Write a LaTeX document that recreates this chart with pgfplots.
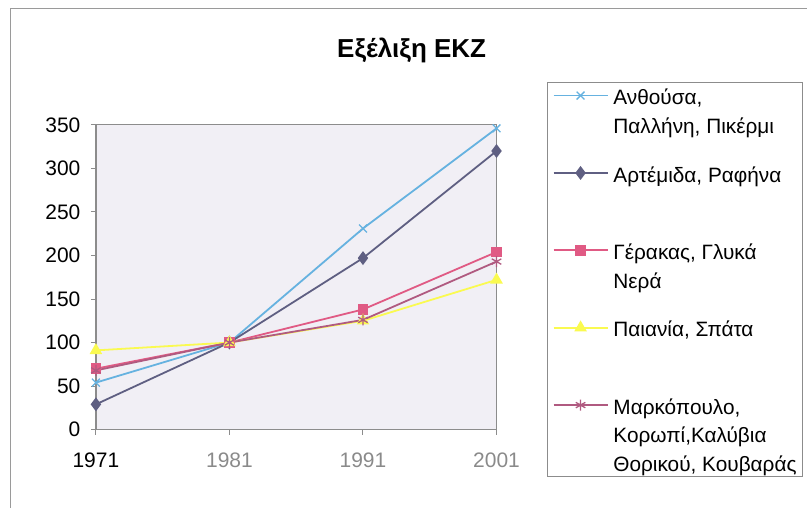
\documentclass[border=0pt]{standalone}
\usepackage{fontspec}
\setmainfont{Liberation Sans}
\usepackage{pgfplots}
\pgfplotsset{compat=1.18}

\definecolor{sAnth}{HTML}{66B2E0}
\definecolor{sArte}{HTML}{5F5F82}
\definecolor{sGera}{HTML}{E05A84}
\definecolor{sPaia}{HTML}{FAFA50}
\definecolor{sMark}{HTML}{B05A80}
\definecolor{plotbg}{HTML}{F1EFF5}
\definecolor{axgray}{HTML}{8C8C8C}
\definecolor{framegray}{HTML}{9A9A9A}
\definecolor{labgray}{HTML}{8A8A8A}

% legend entries: the first line sits on the row, further lines hang below it
\newcommand\lgdi[1]{\strut#1}
\newcommand\lgdii[2]{\strut\smash{\vtop{\hbox{\strut#1}\hbox{\strut#2}}}}
\newcommand\lgdiii[3]{\strut\smash{\vtop{\hbox{\strut#1}\hbox{\strut#2}\hbox{\strut#3}}}}

\begin{document}
\begin{tikzpicture}
\path (0pt,0pt) rectangle (808pt,508pt);
% chart frame
\draw[framegray, line width=1.5pt] (10.5pt,0pt) -- (10.5pt,499.25pt) -- (808pt,499.25pt);
% title
\node[font=\bfseries\fontsize{26}{30}\selectfont] at (412pt,458pt) {Εξέλιξη ΕΚΖ};
% legend frame
\draw[axgray, line width=1pt, fill=white] (548pt,31pt) rectangle (803pt,425pt);

\begin{axis}[
  at={(96pt,78pt)}, anchor=south west,
  scale only axis, width=401pt, height=305pt,
  xmin=0, xmax=3, ymin=0, ymax=350,
  xtick={0,1,2,3},
  xticklabels={1971,\textcolor{labgray}{1981},\textcolor{labgray}{1991},\textcolor{labgray}{2001}},
  ytick={0,50,...,350},
  tick pos=left, tick align=outside, major tick length=5pt,
  axis line style={axgray, line width=1.2pt},
  tick style={axgray, line width=1pt},
  axis background/.style={fill=plotbg},
  ticklabel style={font=\fontsize{21}{25}\selectfont},
  xticklabel style={yshift=-15pt},
  yticklabel style={xshift=-7pt},
  /pgf/number format/assume math mode=true,
  clip=false,
  every axis plot/.append style={line width=1.8pt},
  legend cell align=left,
  legend image code/.code={\draw[mark repeat=2,mark phase=2,#1] plot coordinates {(0pt,0pt) (27pt,0pt) (54pt,0pt)};},
  legend style={draw=none, fill=none, inner sep=0pt,
    at={(1.1397,1.132)}, anchor=north west,
    nodes={inner sep=0pt}, row sep=56pt, column sep=5pt,
    font=\fontsize{20.8}{28.5}\selectfont},
]
\addplot[sAnth, mark=x, mark size=5.5pt, mark options={line width=1.3pt}]
  coordinates {(0,54) (1,100) (2,231) (3,346)};
\addlegendentry{\lgdii{Ανθούσα,}{Παλλήνη, Πικέρμι}}
\addplot[sArte, mark=diamond*, mark size=5.5pt]
  coordinates {(0,29) (1,100) (2,197) (3,320)};
\addlegendentry{\lgdi{Αρτέμιδα, Ραφήνα}}
\addplot[sGera, mark=square*, mark size=4.5pt]
  coordinates {(0,70) (1,100) (2,138) (3,204)};
\addlegendentry{\lgdii{Γέρακας, Γλυκά}{Νερά}}
\addplot[sPaia, mark=triangle*, mark size=5.5pt]
  coordinates {(0,91) (1,100) (2,125) (3,172)};
\addlegendentry{\lgdi{Παιανία, Σπάτα}}
\addplot[sMark, mark=asterisk, mark size=5.5pt, mark options={line width=1.3pt}]
  coordinates {(0,68) (1,100) (2,126) (3,193)};
\addlegendentry{\lgdiii{Μαρκόπουλο,}{Κορωπί,Καλύβια}{Θορικού, Κουβαράς}}
\end{axis}
\end{tikzpicture}
\end{document}
